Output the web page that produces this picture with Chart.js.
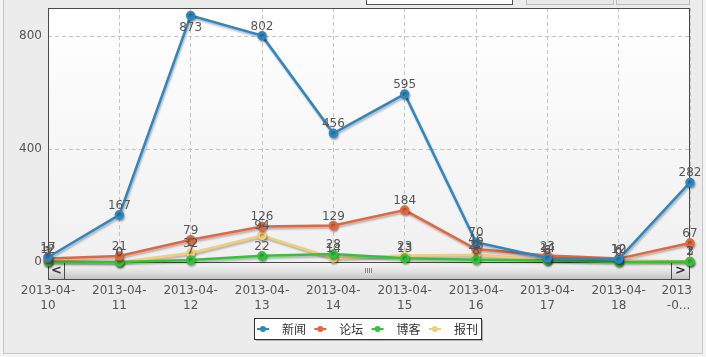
<!DOCTYPE html>
<html><head><meta charset="utf-8">
<script src="https://cdn.jsdelivr.net/npm/chart.js@4/dist/chart.umd.min.js"></script>
<style>
html,body{margin:0;padding:0;background:#f4f4f4;}
#wrap{position:absolute;left:0;top:0;width:706px;height:357px;overflow:hidden;background:#f4f4f4;}
#panel{position:absolute;left:3px;top:-2px;width:698px;height:354px;background:#ececec;border:1px solid #c6c6c6;}
.tb{position:absolute;top:-3px;height:6px;}
canvas{position:absolute;left:0;top:0;}
</style></head>
<body>
<div id="wrap">
<div id="panel"></div>
<div class="tb" style="left:366px;width:145px;background:#fff;border:1px solid #555;"></div>
<div class="tb" style="left:526px;width:86px;background:#e8e8e8;border:1px solid #bbb;"></div>
<div class="tb" style="left:616px;width:72px;background:#e8e8e8;border:1px solid #bbb;"></div>
<canvas id="c" width="706" height="357"></canvas>
</div>
<script>
const categories = ['2013-04-10','2013-04-11','2013-04-12','2013-04-13','2013-04-14','2013-04-15','2013-04-16','2013-04-17','2013-04-18','2013-04-19'];
const seriesNames = ['新闻','论坛','博客','报刊'];
const newsValues  = [17, 167, 873, 802, 456, 595, 70, 14, 10, 282];
const forumValues = [12, 21, 79, 126, 129, 184, 46, 23, 12, 67];
const blogValues  = [1, 0, 7, 22, 28, 13, 8, 6, 0, 2];
const pressValues = [3, 0, 32, 94, 14, 23, 26, 8, 6, 3];
const yTicks = [0, 400, 800];
const colors = ['#2f86c0', '#e2673f', '#34c23a', '#f0cf78'];

const FONT = '"DejaVu Sans", Verdana, sans-serif';
const CJK = '"Noto Sans CJK SC", "DejaVu Sans", sans-serif';

const bgPlugin = {
  id: 'bg',
  beforeDraw(chart) {
    const {ctx, chartArea: a} = chart;
    ctx.save();
    const g = ctx.createLinearGradient(0, a.top, 0, a.bottom);
    g.addColorStop(0, '#ffffff');
    g.addColorStop(1, '#f0f0f0');
    ctx.fillStyle = g;
    ctx.fillRect(a.left, a.top, a.right - a.left, a.bottom - a.top);
    ctx.restore();
  },
  beforeDatasetsDraw(chart) {
    const {ctx, chartArea: a} = chart;
    ctx.save();
    ctx.strokeStyle = '#4a4a4a';
    ctx.lineWidth = 1;
    ctx.strokeRect(a.left + 0.5, a.top + 0.5, a.right - a.left - 1, a.bottom - a.top);
    const sy = a.bottom, sh = 17;
    const g = ctx.createLinearGradient(0, sy, 0, sy + sh);
    g.addColorStop(0, '#f6f6f6');
    g.addColorStop(0.5, '#e4e4e4');
    g.addColorStop(1, '#c4c4c4');
    ctx.fillStyle = g;
    ctx.fillRect(a.left, sy, a.right - a.left, sh);
    ctx.strokeStyle = '#4a4a4a';
    ctx.strokeRect(a.left + 0.5, sy + 0.5, a.right - a.left - 1, sh);
    ctx.strokeRect(a.left + 0.5, sy + 0.5, 16, sh);
    ctx.strokeRect(a.right - 18.5, sy + 0.5, 18, sh);
    ctx.fillStyle = '#333';
    ctx.font = 'bold 13px ' + FONT;
    ctx.textAlign = 'center';
    ctx.textBaseline = 'middle';
    ctx.fillText('<', a.left + 8.5, sy + 9);
    ctx.fillText('>', a.right - 9.5, sy + 9);
    ctx.strokeStyle = '#888';
    const cx = Math.round((a.left + a.right) / 2) - 4;
    for (let i = 0; i < 4; i++) {
      ctx.beginPath();
      ctx.moveTo(cx + i * 2 + 0.5, sy + 6);
      ctx.lineTo(cx + i * 2 + 0.5, sy + 11);
      ctx.stroke();
    }
    ctx.restore();
    ctx.save();
    ctx.shadowColor = 'rgba(0,0,0,0.28)';
    ctx.shadowOffsetX = 1;
    ctx.shadowOffsetY = 2;
    ctx.shadowBlur = 2;
  },
  afterDatasetsDraw(chart) {
    const ctx = chart.ctx;
    ctx.restore();
    ctx.save();
    ctx.font = '12px ' + FONT;
    ctx.fillStyle = '#555';
    ctx.textAlign = 'center';
    const top = chart.chartArea.top;
    chart.data.datasets.forEach((ds, di) => {
      const meta = chart.getDatasetMeta(di);
      meta.data.forEach((pt, i) => {
        const v = ds.data[i];
        if (pt.y - 16 < top) {
          ctx.textBaseline = 'top';
          ctx.fillText(String(v), pt.x, pt.y + 6);
        } else {
          ctx.textBaseline = 'alphabetic';
          ctx.fillText(String(v), pt.x, pt.y - 6);
        }
      });
    });
    ctx.restore();
  },
  afterDraw(chart) {
    const ctx = chart.ctx;
    ctx.save();
    const bx = 254, by = 318, bw = 227, bh = 21;
    ctx.fillStyle = 'rgba(0,0,0,0.25)';
    ctx.fillRect(bx + 2, by + 2, bw, bh);
    ctx.fillStyle = '#fff';
    ctx.fillRect(bx, by, bw, bh);
    ctx.strokeStyle = '#333';
    ctx.lineWidth = 1;
    ctx.strokeRect(bx + 0.5, by + 0.5, bw, bh);
    ctx.font = '12px ' + CJK;
    ctx.textBaseline = 'middle';
    ctx.textAlign = 'left';
    const cy = by + bh / 2 + 0.5;
    chart.data.datasets.forEach((ds, i) => {
      const x0 = bx + 3 + i * 57.3;
      ctx.strokeStyle = ds.borderColor;
      ctx.lineWidth = 2;
      ctx.beginPath();
      ctx.moveTo(x0, cy);
      ctx.lineTo(x0 + 12, cy);
      ctx.stroke();
      ctx.fillStyle = ds.borderColor;
      ctx.beginPath();
      ctx.arc(x0 + 6, cy, 3, 0, Math.PI * 2);
      ctx.fill();
      ctx.fillStyle = '#333';
      ctx.fillText(ds.label, x0 + 25, cy);
    });
    ctx.restore();
  }
};

const seriesValues = [newsValues, forumValues, blogValues, pressValues];

new Chart(document.getElementById('c'), {
  type: 'line',
  data: {
    labels: categories,
    datasets: seriesNames.map((n, i) => ({
      label: n,
      data: seriesValues[i],
      borderColor: colors[i],
      backgroundColor: colors[i],
      pointBackgroundColor: colors[i],
      pointBorderColor: colors[i],
      borderWidth: 2.5,
      pointRadius: 3.5,
      tension: 0,
      fill: false,
      clip: false
    }))
  },
  options: {
    responsive: false,
    animation: false,
    events: [],
    layout: { padding: { top: 8, right: 16, left: 0, bottom: 0 } },
    plugins: { legend: { display: false }, tooltip: { enabled: false } },
    scales: {
      x: {
        offset: false,
        border: { display: false, dash: [4, 3] },
        grid: { color: '#c4c4c4', drawTicks: false, lineWidth: 1 },
        afterFit(s) { s.height = 95; s.paddingLeft = 0; s.paddingRight = 0; },
        ticks: {
          autoSkip: false, maxRotation: 0, minRotation: 0, padding: 22,
          color: '#555', font: { family: FONT, size: 12 },
          callback(v, i) {
            const c = categories[i];
            if (i === categories.length - 1) return ['2013       ', '-0...      '];
            return [c.slice(0, 8), c.slice(8)];
          }
        }
      },
      y: {
        min: 0, max: 900,
        border: { display: false, dash: [4, 3] },
        afterBuildTicks(axis) { axis.ticks = yTicks.map(v => ({ value: v })); },
        afterFit(s) { s.width = 48; s.paddingTop = 0; s.paddingBottom = 0; },
        grid: { color: '#c4c4c4', drawTicks: false },
        ticks: { padding: 6, color: '#555', font: { family: FONT, size: 12 } }
      }
    }
  },
  plugins: [bgPlugin]
});
</script>
</body></html>
